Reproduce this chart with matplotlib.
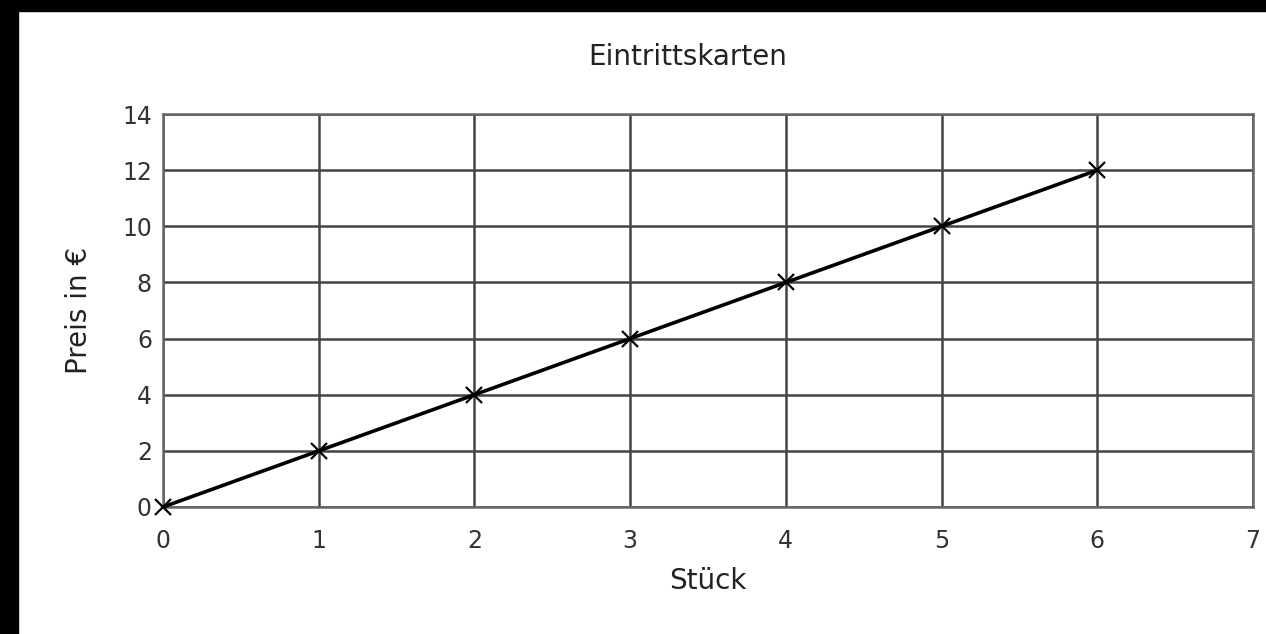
import matplotlib.pyplot as plt
from matplotlib.patches import Rectangle

stueck = [0, 1, 2, 3, 4, 5, 6]
preis = [0, 2, 4, 6, 8, 10, 12]
x_ticks = [0, 1, 2, 3, 4, 5, 6, 7]
y_ticks = [0, 2, 4, 6, 8, 10, 12, 14]

W, H = 1266, 634
fig = plt.figure(figsize=(W / 100, H / 100), dpi=100)
fig.patch.set_facecolor('white')

# black scan borders (top and left)
fig.patches.append(Rectangle((0, 1 - 11 / H), 1, 11 / H, transform=fig.transFigure,
                             color='black', zorder=0))
fig.patches.append(Rectangle((0, 0), 18 / W, 1, transform=fig.transFigure,
                             color='black', zorder=0))

ax = fig.add_axes([163 / W, 1 - 507 / H, (1253 - 163) / W, (507 - 114) / H])

ax.plot(stueck, preis, color='black', linewidth=2.6, marker='x',
        markersize=11, markeredgewidth=1.6, zorder=3, clip_on=False)

ax.set_xlim(0, 7)
ax.set_ylim(0, 14)
ax.set_xticks(x_ticks)
ax.set_yticks(y_ticks)
ax.tick_params(axis='x', length=0, labelsize=17, colors='#333333', pad=16)
ax.tick_params(axis='y', length=0, labelsize=17, colors='#333333', pad=8)
ax.grid(True, color='#444444', linewidth=1.8)
for s in ax.spines.values():
    s.set_color('#666666')
    s.set_linewidth(1.8)

fig.text(688 / W, 1 - 57 / H, 'Eintrittskarten', fontsize=20, color='#222222',
         ha='center', va='center')
ax.set_xlabel('Stück', fontsize=20, color='#222222', labelpad=10)
ax.set_ylabel('Preis in €', fontsize=20, color='#222222', labelpad=21)

fig.savefig('out.png', dpi=100)
